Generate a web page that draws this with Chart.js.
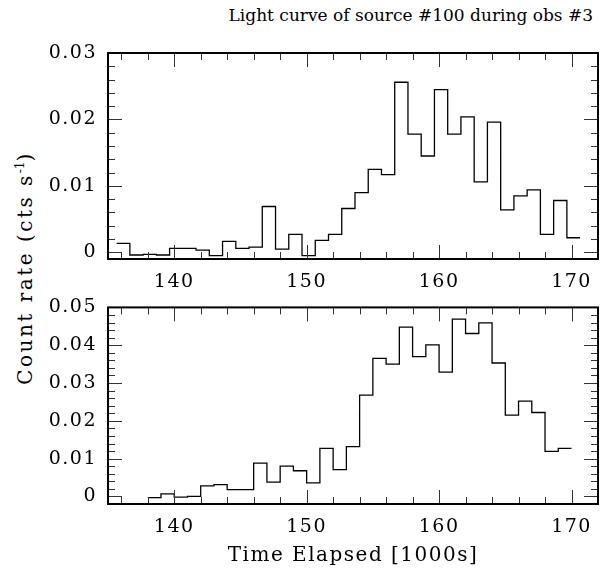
<!DOCTYPE html>
<html>
<head>
<meta charset="utf-8">
<script src="https://cdn.jsdelivr.net/npm/chart.js@4.4.0/dist/chart.umd.min.js"></script>
<style>
  body { margin: 0; background: #fff; }
  #wrap { position: relative; width: 605px; height: 571px; font-family: "DejaVu Serif", serif; color: #000; }
  canvas { position: absolute; left: 0; }
  #topChart { top: 0; }
  #botChart { top: 285px; }
  .title { position: absolute; right: 12px; top: 5px; font-size: 17px; white-space: nowrap; }
  .ylab { position: absolute; left: 25px; top: 268px; transform: translate(-50%, -50%) rotate(-90deg); font-size: 20px; letter-spacing: 2.5px; white-space: nowrap; }
  .ylab sup { font-size: 12px; letter-spacing: 0; }
</style>
</head>
<body>
<div id="wrap">
  <div class="title">Light curve of source #100 during obs #3</div>
  <div class="ylab">Count rate (cts s<sup>-1</sup>)</div>
  <canvas id="topChart" width="605" height="290"></canvas>
  <canvas id="botChart" width="605" height="286"></canvas>
</div>
<script>
// bin edges (1000 s) and count rates
const topEdges = [135.65, 136.65, 137.65, 138.65, 139.65, 140.65, 141.65, 142.65, 143.65, 144.65,
  145.65, 146.65, 147.65, 148.65, 149.65, 150.65, 151.65, 152.65, 153.65, 154.65,
  155.65, 156.65, 157.65, 158.65, 159.65, 160.65, 161.65, 162.65, 163.65, 164.65,
  165.65, 166.65, 167.65, 168.65, 169.65, 170.65];
const topRates = [0.00135, -0.0004, -0.0003, -0.0004, 0.0006, 0.0006, 0.00035, -0.0005, 0.00165, 0.0006,
  0.0008, 0.0069, 0.0005, 0.0027, -0.0005, 0.0018, 0.0027, 0.0066, 0.0090, 0.0125,
  0.0117, 0.0256, 0.0178, 0.0145, 0.0245, 0.0178, 0.0204, 0.0106, 0.0196, 0.0064,
  0.0085, 0.0094, 0.0027, 0.0078, 0.0022];

const botEdges = [138, 139, 140, 141, 142, 143, 144, 145, 146, 147, 148, 149, 150, 151, 152, 153,
  154, 155, 156, 157, 158, 159, 160, 161, 162, 163, 164, 165, 166, 167, 168, 169, 170];
const botRates = [-0.0003, 0.0007, -0.0002, 0.0000, 0.0028, 0.0031, 0.0018, 0.0018, 0.0088, 0.0038,
  0.0080, 0.0068, 0.0036, 0.0127, 0.0071, 0.0132, 0.0268, 0.0365, 0.0350, 0.0448,
  0.0370, 0.0401, 0.0329, 0.0469, 0.0431, 0.0459, 0.0353, 0.0215, 0.0252, 0.0222,
  0.0119, 0.0127];

const xTicks = [140, 150, 160, 170];
const topYTicks = [0, 0.01, 0.02, 0.03];
const botYTicks = [0, 0.01, 0.02, 0.03, 0.04, 0.05];

const FONT = 'DejaVu Serif';

// each edge carries the rate of the bin starting there; last edge closes the last bin
const toSteps = (edges, rates) => edges.map((x, i) => ({ x: x, y: rates[Math.min(i, rates.length - 1)] }));

// wider glyph spacing, closer to the plotter font of the original
const spacing = {
  id: 'spacing',
  beforeDraw(chart) { chart.ctx.letterSpacing = '1.5px'; },
  afterDraw(chart) { chart.ctx.letterSpacing = '0px'; },
};

// frame plus inward major/minor ticks on all four sides
const frameTicks = {
  id: 'frameTicks',
  afterDatasetsDraw(chart) {
    const { ctx, chartArea: a, scales: { x, y } } = chart;
    ctx.save();
    ctx.strokeStyle = '#333';
    ctx.lineWidth = 1;
    ctx.beginPath();
    const xs = Math.ceil(x.min / 2), xe = Math.floor(x.max / 2);
    for (let k = xs; k <= xe; k++) {
      const px = Math.round(x.getPixelForValue(k * 2)) + 0.5;
      const len = (k * 2) % 10 === 0 ? 14 : 7;
      ctx.moveTo(px, a.bottom); ctx.lineTo(px, a.bottom - len);
      ctx.moveTo(px, a.top); ctx.lineTo(px, a.top + len);
    }
    const ys = Math.ceil(y.min / 0.002 - 1e-6), ye = Math.floor(y.max / 0.002 + 1e-6);
    for (let k = ys; k <= ye; k++) {
      const py = Math.round(y.getPixelForValue(k * 0.002)) + 0.5;
      const len = k % 5 === 0 ? 14 : 7;
      ctx.moveTo(a.left, py); ctx.lineTo(a.left + len, py);
      ctx.moveTo(a.right, py); ctx.lineTo(a.right - len, py);
    }
    ctx.stroke();
    ctx.strokeStyle = '#000';
    ctx.lineWidth = 2;
    ctx.strokeRect(a.left, a.top, a.right - a.left, a.bottom - a.top);
    ctx.restore();
  }
};

function makeChart(id, edges, rates, yMin, yMax, yTicks, pad, xHeight, withTitle) {
  return new Chart(document.getElementById(id), {
    type: 'line',
    data: {
      datasets: [{
        data: toSteps(edges, rates),
        stepped: 'before',
        borderColor: '#000',
        borderWidth: 1.3,
        pointRadius: 0,
        fill: false,
      }],
    },
    options: {
      responsive: false,
      animation: false,
      devicePixelRatio: 1,
      layout: { padding: pad },
      plugins: { legend: { display: false }, tooltip: { enabled: false } },
      scales: {
        x: {
          type: 'linear',
          min: 135,
          max: 172,
          grid: { display: false, drawTicks: false },
          border: { display: false },
          afterBuildTicks: s => { s.ticks = xTicks.map(v => ({ value: v })); },
          afterFit: s => { s.height = xHeight; },
          ticks: { color: '#000', padding: 12, maxRotation: 0, font: { family: FONT, size: 19 }, callback: v => String(v) },
          title: {
            display: withTitle,
            text: 'Time Elapsed [1000s]',
            color: '#000',
            font: { family: FONT, size: 20 },
            padding: { top: 0, bottom: 3 },
          },
        },
        y: {
          min: yMin,
          max: yMax,
          grid: { display: false, drawTicks: false },
          border: { display: false },
          afterBuildTicks: s => { s.ticks = yTicks.map(v => ({ value: v })); },
          afterFit: s => { s.width = 108; },
          ticks: { color: '#000', padding: 11, font: { family: FONT, size: 19 }, callback: v => String(v) },
        },
      },
    },
    plugins: [spacing, frameTicks],
  });
}

makeChart('topChart', topEdges, topRates, -0.001, 0.03, topYTicks, { top: 53, right: 7, left: 0, bottom: 0 }, 31, false);
makeChart('botChart', botEdges, botRates, -0.002, 0.05, botYTicks, { top: 13, right: 7, left: 0, bottom: 0 }, 67, true);
</script>
</body>
</html>
